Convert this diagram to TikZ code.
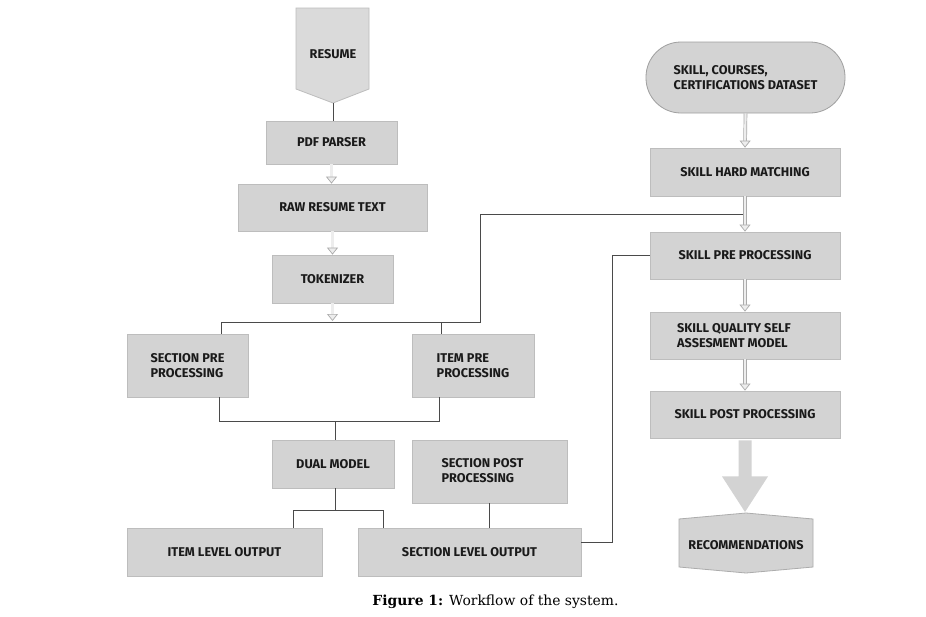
\documentclass[tikz,border=0pt]{standalone}
\usepackage{fontspec}
\setmainfont{Fira Sans}
\newfontfamily\capfont{DejaVu Serif}
\usetikzlibrary{arrows.meta,calc}
\definecolor{boxgray}{HTML}{D3D3D3}
\definecolor{boxedge}{HTML}{BDBDBD}
\definecolor{linegray}{HTML}{4A4A4A}
\definecolor{txt}{HTML}{1A1A1A}
\definecolor{arrowedge}{HTML}{ABABAB}
\definecolor{arrowfill}{HTML}{EDEDED}
\begin{document}
\begin{tikzpicture}[x=1pt,y=-1pt,
  lbl/.style={font=\fontsize{12.7}{15}\selectfont\bfseries, text=txt, inner sep=0pt},
  box/.style={lbl, draw=boxedge, fill=boxgray, line width=0.8pt, align=center},
  conn/.style={draw=linegray, line width=0.9pt},
  garrow/.style={draw=arrowedge, double=arrowfill, double distance=2.2pt, line width=0.7pt,
    -{Triangle[open, fill=arrowfill, length=7pt, width=11pt]}},
]
\useasboundingbox (0,0) rectangle (926,616);
\fill[white] (0,0) rectangle (926,616);

% ---- left column ----
\draw[draw=boxedge, fill=boxgray!85, line width=0.8pt]
  (296,8) -- (369,8) -- (369,89) -- (333,103) -- (296,89) -- cycle;
\node[lbl] (resume) at (333,54) {RESUME};
\coordinate (resumetip) at (333,103);

\node[box, minimum width=131pt, minimum height=43pt] (pdf) at (331.5,142.5) {PDF PARSER};
\node[box, minimum width=189pt, minimum height=47pt] (raw) at (332.5,207.5) {RAW RESUME TEXT};
\node[box, minimum width=121pt, minimum height=48pt] (tok) at (332.5,279) {TOKENIZER};
\node[box, align=left, minimum width=121pt, minimum height=63pt] (secpre) at (187.5,365.5) {SECTION PRE\\PROCESSING};
\node[box, align=left, minimum width=122pt, minimum height=63pt] (itempre) at (473,365.5) {ITEM PRE\\PROCESSING};
\node[box, minimum width=122pt, minimum height=48pt] (dual) at (333,464) {DUAL MODEL};
\node[box, minimum width=155pt, minimum height=63pt] (secpost) at (489.5,471.5) {};
\node[lbl, align=left] (secposttxt) at (482.5,471) {SECTION POST\\PROCESSING};
\node[box, minimum width=195pt, minimum height=48pt] (itemout) at (224.5,552) {ITEM LEVEL OUTPUT};
\node[box, minimum width=223pt, minimum height=48pt] (secout) at (469.5,552) {SECTION LEVEL OUTPUT};

% ---- right column ----
\node[box, align=left, draw=gray!75, rounded corners=35pt, minimum width=199pt, minimum height=71pt] (data) at (745.5,77.5) {SKILL, COURSES,\\CERTIFICATIONS DATASET};
\node[box, minimum width=190pt, minimum height=48pt] (hard) at (745,172) {SKILL HARD MATCHING};
\node[box, minimum width=190pt, minimum height=47pt] (skillpre) at (745,255.5) {SKILL PRE PROCESSING};
\node[box, minimum width=190pt, minimum height=47pt] (quality) at (745,335.5) {};
\node[lbl, align=left] (qualitytxt) at (734,335.5) {SKILL QUALITY SELF\\ASSESMENT MODEL};
\node[box, minimum width=190pt, minimum height=47pt] (post) at (745,414.5) {SKILL POST PROCESSING};

\draw[draw=gray!65, fill=boxgray, line width=0.8pt]
  (679,519) -- (746,513) -- (813,519) -- (813,567) -- (746,573) -- (679,567) -- cycle;
\node[lbl] (reco) at (746,545) {RECOMMENDATIONS};
\coordinate (recotop) at (745,512);

% ---- connectors ----
\draw[conn] (resumetip) -- (resumetip |- pdf.north);
\draw[garrow] (pdf.south) -- (pdf.south |- raw.north);
\draw[garrow] (raw.south) -- (raw.south |- tok.north);
\coordinate (sl) at (221,322);
\coordinate (sr) at (480,322);
\coordinate (split) at (332.5,321);
\draw[garrow] (tok.south) -- (split);
\coordinate (joinR) at ($(hard.south)!0.5!(skillpre.north)$);
\draw[conn] (sl |- secpre.north) -- (sl) -- (sr) -- (sr |- joinR) -- (joinR);
\draw[conn] ([xshift=-32pt]itempre.north) -- ([xshift=-32pt]itempre.north |- sl);

\coordinate (mL) at ($(secpre.south)+(31.5,24)$);
\coordinate (mR) at ($(itempre.south)+(-34,24)$);
\draw[conn] ([xshift=31.5pt]secpre.south) -- (mL) -- (mR) -- ([xshift=-34pt]itempre.south);
\draw[conn] ([xshift=2pt]dual.north) -- ([xshift=2pt]dual.north |- mL);

\coordinate (dsplit) at ($(dual.south)+(2,23)$);
\coordinate (dL) at ($(itemout.north)+(68.5,-17)$);
\coordinate (dR) at ($(secout.north)+(-86.5,-17)$);
\draw[conn] ([xshift=2pt]dual.south) -- (dsplit);
\draw[conn] ([xshift=68.5pt]itemout.north) -- (dL) -- (dR) -- ([xshift=-86.5pt]secout.north);
\draw[conn] (secpost.south) -- (secpost.south |- secout.north);
\draw[conn] ([yshift=10pt]secout.east) -- ++(31,0) |- (skillpre.west);

\draw[garrow] (data.south) -- (hard.north);
\draw[garrow] (hard.south) -- (skillpre.north);
\draw[garrow] (skillpre.south) -- (quality.north);
\draw[garrow] (quality.south) -- (post.north);

\fill[boxgray] ($(post.south)+(-6.5,2)$) -- ($(post.south)+(6.5,2)$) -- ($(post.south)+(6.5,38)$)
  -- ($(post.south)+(23,38)$) -- (recotop) -- ($(post.south)+(-23,38)$) -- ($(post.south)+(-6.5,38)$) -- cycle;

% ---- caption ----
\node[font=\capfont\fontsize{13.9}{16}\selectfont, text=black, inner sep=0pt] (cap) at (495.5,602) {\textbf{Figure 1:} Workflow of the system.};
\end{tikzpicture}
\end{document}
